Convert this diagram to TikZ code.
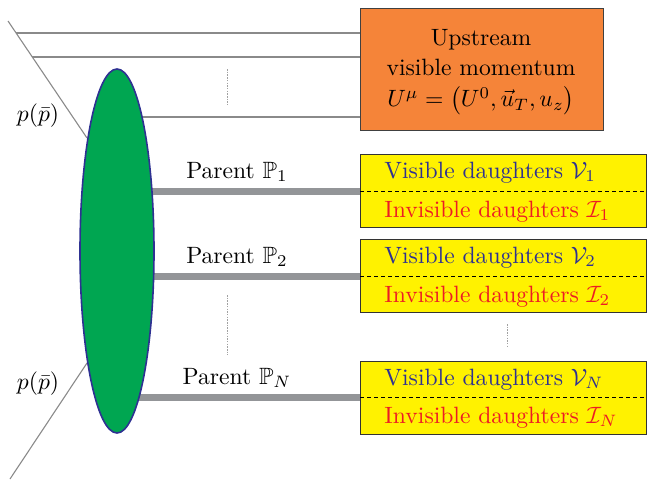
\documentclass[tikz,border=0pt]{standalone}
\usepackage{amssymb}
\usetikzlibrary{shapes.geometric,backgrounds}
\definecolor{orng}{HTML}{F58439}
\definecolor{ylw}{HTML}{FFF200}
\definecolor{grn}{HTML}{00A651}
\definecolor{dblue}{HTML}{2E3192}
\definecolor{rd}{HTML}{ED1C24}
\definecolor{thickgray}{HTML}{939598}
\definecolor{thingray}{HTML}{8A8A8A}
\tikzset{
  bigfont/.style={scale=2.36},
  dbox/.style={draw=black!80, line width=0.9pt, fill=ylw, minimum width=286pt, minimum height=73pt, anchor=north west, inner sep=0pt},
  parentline/.style={thickgray, line width=7pt},
  thinline/.style={thingray, line width=1.1pt},
  dotline/.style={thingray!80, line width=1pt, dash pattern=on 1.5pt off 1.2pt},
  vistext/.style={bigfont, text=dblue, anchor=base west, inner sep=0pt},
  invtext/.style={bigfont, text=rd, anchor=base west, inner sep=0pt},
  plabel/.style={bigfont, inner sep=0pt},
}
\begin{document}
\begin{tikzpicture}[x=1pt,y=-1pt]
\useasboundingbox (0,0) rectangle (647,479);
% upstream box
\node[draw=black!75, line width=0.9pt, fill=orng, minimum width=243pt, minimum height=122pt, anchor=north west, inner sep=0pt] (up) at (360,8) {};
\node[bigfont, align=center, inner sep=0pt, anchor=center] (uptext) at (481,72) {Upstream\\[1pt]visible momentum\\[1pt]$U^\mu=\big(U^0,\vec u_T,u_z\big)$};
% ellipse
\node[ellipse, draw=dblue, line width=1.6pt, fill=grn, minimum width=74pt, minimum height=364pt, inner sep=0pt] (blob) at (117,251) {};
% daughter boxes
\node[dbox] (b1) at (360,154) {};
\node[dbox] (b2) at (360,239) {};
\node[dbox] (bN) at (360,361) {};
\foreach \b/\i/\d in {b1/1/191, b2/2/276, bN/N/397}{
  \coordinate (\b-dl) at (360,\d);
  \coordinate (\b-dr) at (646,\d);
  \draw[dashed, line width=1pt, dash pattern=on 4pt off 3pt] (\b-dl) -- (\b-dr);
}
\node[vistext] (v1) at (384,178) {Visible daughters $\mathcal{V}_1$};
\node[invtext] (i1) at (384,217) {Invisible daughters $\mathcal{I}_1$};
\node[vistext] (v2) at (384,263) {Visible daughters $\mathcal{V}_2$};
\node[invtext] (i2) at (384,302) {Invisible daughters $\mathcal{I}_2$};
\node[vistext] (vN) at (384,385) {Visible daughters $\mathcal{V}_N$};
\node[invtext] (iN) at (384,423) {Invisible daughters $\mathcal{I}_N$};
% parent labels
\node[plabel, anchor=base] (p1) at (237,178) {Parent $\mathbb{P}_1$};
\node[plabel, anchor=base] (p2) at (237,263) {Parent $\mathbb{P}_2$};
\node[plabel, anchor=base] (pN) at (237,384) {Parent $\mathbb{P}_N$};
% beam labels
\node[plabel] (pp1) at (38,116) {$p(\bar p)$};
\node[plabel] (pp2) at (38,384) {$p(\bar p)$};
% coordinates for thin lines
\coordinate (t0) at (8,21);
\coordinate (t1) at (87,138);
\coordinate (bt0) at (87,363);
\coordinate (bt1) at (10,479);
\coordinate (h1l) at (16,33);
\coordinate (h1r) at (360,33);
\coordinate (h2l) at (32,57);
\coordinate (h2r) at (360,57);
\coordinate (h3l) at (117,117);
\coordinate (h3r) at (360,117);
\begin{scope}[on background layer]
  \draw[thinline] (t0) -- (t1);
  \draw[thinline] (bt0) -- (bt1);
  \draw[thinline] (h1l) -- (h1r);
  \draw[thinline] (h2l) -- (h2r);
  \draw[thinline] (h3l) -- (h3r);
  \draw[parentline] (b1-dl) -- (blob.center |- b1-dl);
  \draw[parentline] (b2-dl) -- (blob.center |- b2-dl);
  \draw[parentline] (bN-dl) -- (blob.center |- bN-dl);
\end{scope}
% dotted ellipses
\coordinate (d1a) at (227,69);
\coordinate (d1b) at (227,105);
\coordinate (d2a) at (227,295);
\coordinate (d2b) at (227,355);
\coordinate (d3a) at (507,324);
\coordinate (d3b) at (507,348);
\draw[dotline] (d1a) -- (d1b);
\draw[dotline] (d2a) -- (d2b);
\draw[dotline] (d3a) -- (d3b);
\end{tikzpicture}
\end{document}
